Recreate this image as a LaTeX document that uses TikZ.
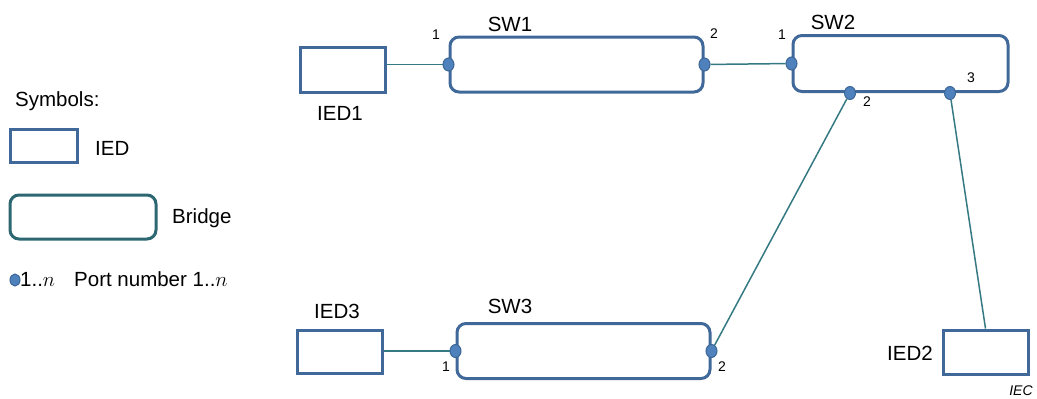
\documentclass[tikz,border=0pt]{standalone}
\usepackage{fontspec}
\setmainfont{Liberation Sans}
\usetikzlibrary{positioning,calc,shapes.geometric}
\definecolor{boxblue}{HTML}{40699A}
\definecolor{legteal}{HTML}{2C6772}
\definecolor{wireteal}{HTML}{357A82}
\definecolor{portfill}{HTML}{4F81BD}
\definecolor{portdraw}{HTML}{3C6696}

\begin{document}
\begin{tikzpicture}[
    x=1pt, y=-1pt,
    ied/.style={rectangle, draw=boxblue, line width=3pt, fill=white, minimum width=85pt, minimum height=44pt, inner sep=0pt},
    bridge/.style={rectangle, rounded corners=9pt, draw=boxblue, line width=3pt, fill=white, minimum width=253pt, minimum height=55pt, inner sep=0pt},
    port/.style={ellipse, draw=portdraw, line width=1pt, fill=portfill, minimum width=11pt, minimum height=13pt, inner sep=0pt},
    wire/.style={draw=wireteal, line width=1.5pt},
    lbl/.style={font=\fontsize{20.5}{24}\selectfont, inner sep=0pt},
    num/.style={font=\fontsize{14}{16}\selectfont, inner sep=0pt}
  ]
  \useasboundingbox (0,0) rectangle (1037,399);

  %% Legend
  \node[lbl, anchor=west] (symtitle) at (15,101) {Symbols:};
  \node[ied, minimum width=67pt, minimum height=33pt] (legied) at (43.5,145.5) {};
  \node[lbl, anchor=west] (legiedtxt) at (95,148) {IED};
  \node[bridge, draw=legteal, minimum width=146pt, minimum height=44pt] (legbridge) at (83,217) {};
  \node[lbl, anchor=west] (legbridgetxt) at (172,218) {Bridge};
  \node[port, minimum width=10pt, minimum height=12pt] (legport) at (15,280) {};
  \node[lbl, anchor=west] (legportnum) at (20,279) {1..$n$};
  \node[lbl, anchor=west] (legporttxt) at (74,279) {Port number 1..$n$};

  %% IEDs
  \node[ied, minimum height=45pt] (ied1) at (342.5,69.5) {};
  \node[ied] (ied2) at (985.5,352) {};
  \node[ied, minimum height=43pt] (ied3) at (339.5,351.5) {};
  \node[lbl] at (340,113) {IED1};
  \node[lbl] at (910,353) {IED2};
  \node[lbl] at (337,311) {IED3};

  %% Bridges
  \node[bridge] (sw1) at (576.5,64.5) {};
  \node[bridge, minimum width=215pt, minimum height=56pt] (sw2) at (900.5,63.5) {};
  \node[bridge] (sw3) at (583.5,351) {};
  \node[lbl] at (510,24) {SW1};
  \node[lbl] at (833,22) {SW2};
  \node[lbl] at (510,306) {SW3};

  %% Ports
  \node[port] (sw1p1) at (sw1.west) {};
  \node[port] (sw1p2) at (sw1.east) {};
  \node[port] (sw2p1) at (sw2.west) {};
  \node[port] (sw2p2) at ([xshift=-50.5pt]sw2.south) {};
  \node[port] (sw2p3) at ([xshift=49.5pt]sw2.south) {};
  \node[port] (sw3p1) at (sw3.west) {};
  \node[port] (sw3p2) at (sw3.east) {};

  %% Port numbers
  \node[num] at (436,35) {1};
  \node[num] at (714,34) {2};
  \node[num] at (782,35) {1};
  \node[num] at (867,102) {2};
  \node[num] at (971,78) {3};
  \node[num] at (446,367) {1};
  \node[num] at (722,367) {2};

  %% Links
  \draw[wire] (sw1p1 -| ied1.east) -- (sw1p1);
  \draw[wire] (sw1p2) -- (sw2p1);
  \draw[wire] (sw2p2) -- (sw3p2);
  \draw[wire] (sw2p3) -- (ied2.north);
  \draw[wire] (sw3p1 -| ied3.east) -- (sw3p1);

  \node[font=\itshape\fontsize{14}{16}\selectfont, inner sep=0pt] (iec) at (1021,391) {IEC};
\end{tikzpicture}
\end{document}
